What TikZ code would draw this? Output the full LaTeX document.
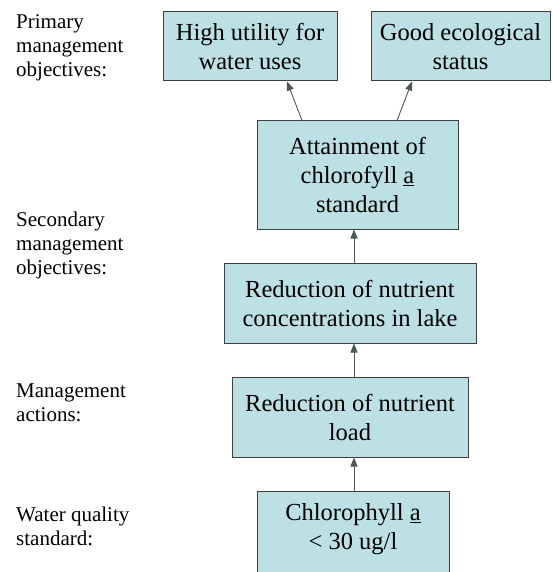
\documentclass[tikz,border=0pt]{standalone}
\usepackage{fontspec}
\setmainfont{Liberation Serif}
\usetikzlibrary{arrows.meta}
\definecolor{boxfill}{RGB}{188,224,228}
\definecolor{boxline}{RGB}{60,64,64}
\definecolor{arrowcol}{RGB}{75,88,88}
\tikzset{
  box/.style={draw=boxline, line width=1pt, fill=boxfill, rectangle,
    inner sep=0pt, align=center, font=\fontsize{24.5}{29}\selectfont},
  boxtext/.style={inner sep=0pt, align=center, font=\fontsize{24.5}{29}\selectfont},
  levellabel/.style={inner sep=0pt, align=left, anchor=north west,
    font=\fontsize{21}{24}\selectfont},
  link/.style={draw=arrowcol, line width=0.9pt, -{Triangle[length=9pt,width=7pt]}}
}
\begin{document}
\begin{tikzpicture}[x=1pt,y=-1pt]
\useasboundingbox (0,0) rectangle (552,572);

% level labels on the left
\node[levellabel] (l1) at (16,14) {Primary\\management\\objectives:};
\node[levellabel] (l2) at (16,212) {Secondary\\management\\objectives:};
\node[levellabel] (l3) at (16,384) {Management\\actions:};
\node[levellabel] (l4) at (16,507) {Water quality\\standard:};

% boxes
\node[box, minimum width=174pt, minimum height=69pt] (A) at (250,46.5)
  {High utility for\\water uses};
\node[box, minimum width=179pt, minimum height=69pt] (B) at (460.5,46.5)
  {Good ecological\\status};
\node[box, minimum width=201pt, minimum height=108pt] (C) at (357.5,175)
  {Attainment of\\chlorofyll \underline{a}\\standard};
\node[box, minimum width=252pt, minimum height=80pt] (D) at (350,303)
  {Reduction of nutrient\\concentrations in lake};
\node[box, minimum width=236pt, minimum height=80pt] (E) at (350,417)
  {Reduction of nutrient\\load};
\node[box, minimum width=192pt, minimum height=110pt, anchor=north] (F) at (353,491) {};
\node[boxtext] (Ft) at (353,529) {Chlorophyll \underline{a}\\< 30 ug/l};

% connectors
\coordinate (ax) at (354,0);
\draw[link] ([xshift=-55.5pt]C.north) -- ([xshift=37pt]A.south);
\draw[link] ([xshift=39.5pt]C.north) -- ([xshift=-48.5pt]B.south);
\draw[link] (D.north -| ax) -- (C.south -| ax);
\draw[link] (E.north -| ax) -- (D.south -| ax);
\draw[link] (F.north -| ax) -- (E.south -| ax);
\end{tikzpicture}
\end{document}
